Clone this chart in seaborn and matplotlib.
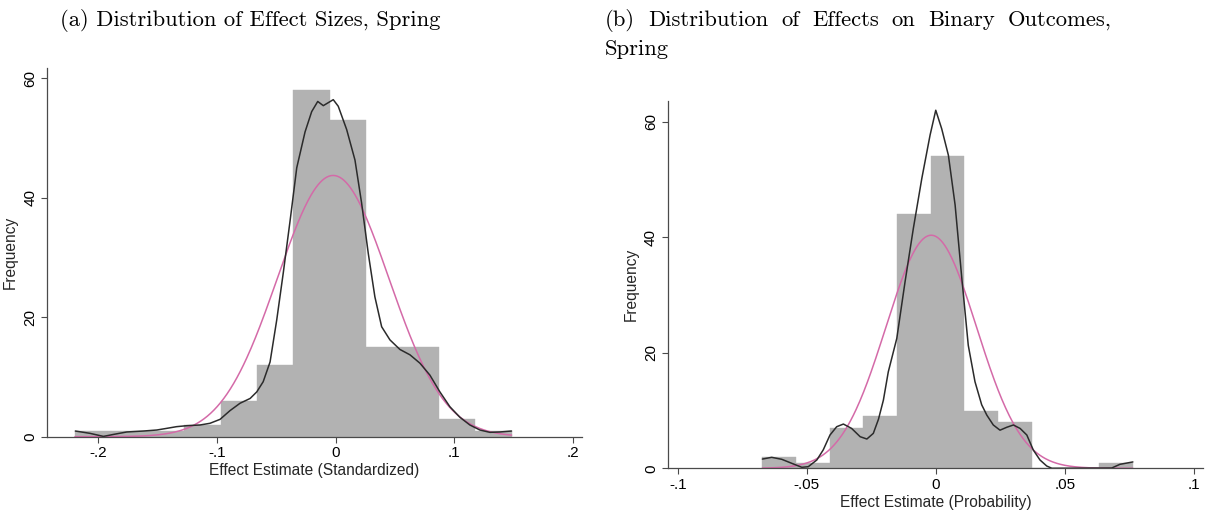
import numpy as np
import pandas as pd
import matplotlib
matplotlib.use("Agg")
import matplotlib.pyplot as plt
import seaborn as sns

# ---------------- data ----------------
# (a) standardized effect estimates: equal-width bins starting at std_bin_start
std_bin_start = -0.2197
std_bin_width = 0.03068
std_counts = [1, 1, 1, 2, 6, 12, 58, 53, 15, 15, 3, 1]
# kernel density of the estimates, on the frequency scale
std_kde_x = [-0.2194, -0.2070, -0.1957, -0.1870, -0.1760, -0.1620, -0.1507, -0.1422,
             -0.1340, -0.1255, -0.1143, -0.1059, -0.0974, -0.0890, -0.0805, -0.0720,
             -0.0664, -0.0610, -0.0552, -0.0496, -0.0440, -0.0384, -0.0327, -0.0257,
             -0.0201, -0.0150, -0.0103, -0.0019, 0.0023, 0.0094, 0.0164, 0.0220,
             0.0276, 0.0332, 0.0389, 0.0459, 0.0543, 0.0628, 0.0712, 0.0796,
             0.0880, 0.0965, 0.1049, 0.1133, 0.1217, 0.1302, 0.1386, 0.1484]
std_kde_y = [0.95, 0.56, 0.05, 0.39, 0.79, 0.95, 1.12, 1.40,
             1.68, 1.84, 1.96, 2.24, 2.90, 4.36, 5.60, 6.40,
             7.50, 9.20, 12.5, 19.5, 27.5, 36.0, 45.0, 51.0,
             54.4, 56.1, 55.4, 56.4, 55.3, 51.4, 46.3, 39.1,
             30.7, 23.4, 18.4, 16.2, 14.6, 13.7, 12.3, 10.3,
             7.50, 5.00, 3.25, 1.96, 1.12, 0.73, 0.79, 0.95]
std_ticks = [-0.2, -0.1, 0.0, 0.1, 0.2]
std_ticklabels = ["-.2", "-.1", "0", ".1", ".2"]

# (b) effects on binary outcomes (probability scale)
prob_bin_start = -0.0672
prob_bin_width = 0.01305
prob_counts = [2, 1, 7, 9, 44, 54, 10, 8, 0, 0, 1]
prob_kde_x = [-0.0672, -0.0636, -0.0597, -0.0558, -0.0519, -0.0494, -0.0461, -0.0436,
              -0.0410, -0.0384, -0.0358, -0.0326, -0.0293, -0.0267, -0.0242, -0.0222,
              -0.0203, -0.0184, -0.0151, -0.0119, -0.0087, -0.0054, -0.0022, 0.0000,
              0.0023, 0.0049, 0.0075, 0.0101, 0.0126, 0.0152, 0.0178, 0.0198,
              0.0223, 0.0249, 0.0275, 0.0301, 0.0327, 0.0353, 0.0378, 0.0404,
              0.0430, 0.0450, 0.0682, 0.0714, 0.0764]
prob_kde_y = [1.60, 1.90, 1.56, 0.86, 0.17, 0.28, 1.44, 3.20,
              5.76, 7.20, 7.66, 6.90, 5.47, 5.07, 6.05, 8.50,
              11.8, 16.7, 22.5, 32.3, 41.5, 50.2, 57.7, 62.0,
              58.8, 54.2, 45.6, 32.9, 21.3, 15.0, 11.0, 9.20,
              7.50, 6.60, 7.10, 7.50, 6.90, 5.76, 3.17, 1.44,
              0.40, 0.00, 0.05, 0.69, 1.10]
prob_ticks = [-0.1, -0.05, 0.0, 0.05, 0.1]
prob_ticklabels = ["-.1", "-.05", "0", ".05", ".1"]

freq_ticks = [0, 20, 40, 60]
freq_ticklabels = ["0", "20", "40", "60"]

# ---------------- style ----------------
sns.set_theme(style="white")
plt.rcParams["font.family"] = ["Liberation Sans", "DejaVu Sans"]

HIST = "#b2b2b2"
KDE = "#2b2b2b"
NORMAL = "#d46aa8"
AXIS = "#4a4a4a"
TICK_FS = 11
LABEL_FS = 11.2
TITLE_FS = 16.3

W, H = 1220, 513
fig = plt.figure(figsize=(W / 100, H / 100), dpi=100)


def px_axes(x0, x1, ytop, ybot):
    return fig.add_axes([x0 / W, 1 - ybot / H, (x1 - x0) / W, (ybot - ytop) / H])


def draw_panel(ax, start, width, counts, kde_x, kde_y, xlim, ylim,
               xticks, xticklabels, xlabel):
    counts = np.asarray(counts, dtype=float)
    edges = start + width * np.arange(len(counts) + 1)
    mids = 0.5 * (edges[:-1] + edges[1:])
    bins = pd.DataFrame({"estimate": mids, "count": counts})
    sns.histplot(data=bins, x="estimate", weights="count", bins=list(edges), ax=ax,
                 color=HIST, alpha=1, edgecolor=HIST, linewidth=0.3)

    # normal density with the sample mean and sd, scaled to frequencies
    n = counts.sum()
    mu = np.average(mids, weights=counts)
    sd = np.sqrt(np.sum(counts * (mids - mu) ** 2) / (n - 1))
    grid = np.linspace(edges[0], edges[-1], 400)
    dens = n * width * np.exp(-0.5 * ((grid - mu) / sd) ** 2) / (sd * np.sqrt(2 * np.pi))
    sns.lineplot(x=grid, y=dens, ax=ax, color=NORMAL, linewidth=1.1)

    sns.lineplot(x=kde_x, y=kde_y, ax=ax, color=KDE, linewidth=1.1)

    ax.set_xlim(*xlim)
    ax.set_ylim(*ylim)
    ax.set_xticks(xticks, xticklabels)
    ax.set_yticks(freq_ticks, freq_ticklabels)
    for lab in ax.get_yticklabels():
        lab.set_rotation(90)
        lab.set_va("center")
    ax.tick_params(axis="both", which="major", direction="out", length=4,
                   width=0.8, color=AXIS, labelsize=TICK_FS, labelcolor="black",
                   pad=3, bottom=True, left=True)
    for side in ("top", "right"):
        ax.spines[side].set_visible(False)
    for side in ("left", "bottom"):
        ax.spines[side].set_color(AXIS)
        ax.spines[side].set_linewidth(0.9)
    ax.set_xlabel(xlabel, fontsize=LABEL_FS, labelpad=2)
    ax.set_ylabel("Frequency", fontsize=LABEL_FS, labelpad=4)
    ax.patch.set_alpha(0)


ax1 = px_axes(47, 581.7, 68, 436.7)
draw_panel(ax1, std_bin_start, std_bin_width, std_counts, std_kde_x, std_kde_y,
           xlim=(-0.2433, 0.2076), ylim=(0, 61.7), xticks=std_ticks,
           xticklabels=std_ticklabels, xlabel="Effect Estimate (Standardized)")

ax2 = px_axes(667.7, 1203.3, 101, 468.3)
draw_panel(ax2, prob_bin_start, prob_bin_width, prob_counts, prob_kde_x, prob_kde_y,
           xlim=(-0.1039, 0.1037), ylim=(0, 63.6), xticks=prob_ticks,
           xticklabels=prob_ticklabels, xlabel="Effect Estimate (Probability)")

# ---------------- captions ----------------
CAP = dict(fontfamily="cmr10", fontsize=TITLE_FS, color="black", va="baseline")

fig.text(60 / W, 1 - 26 / H, "(a) Distribution of Effect Sizes, Spring", ha="left", **CAP)


def justified_line(words, x0, x1, y):
    renderer = fig.canvas.get_renderer()
    texts = [fig.text(0, 1 - y / H, w, ha="left", **CAP) for w in words]
    widths = [t.get_window_extent(renderer).width for t in texts]
    gap = ((x1 - x0) - sum(widths)) / (len(words) - 1)
    x = x0
    for t, w in zip(texts, widths):
        t.set_x(x / W)
        x += w + gap


justified_line("(b) Distribution of Effects on Binary Outcomes,".split(), 605, 1112, 26)
fig.text(605 / W, 1 - 55 / H, "Spring", ha="left", **CAP)

fig.savefig("out.png", dpi=100, facecolor="white")
